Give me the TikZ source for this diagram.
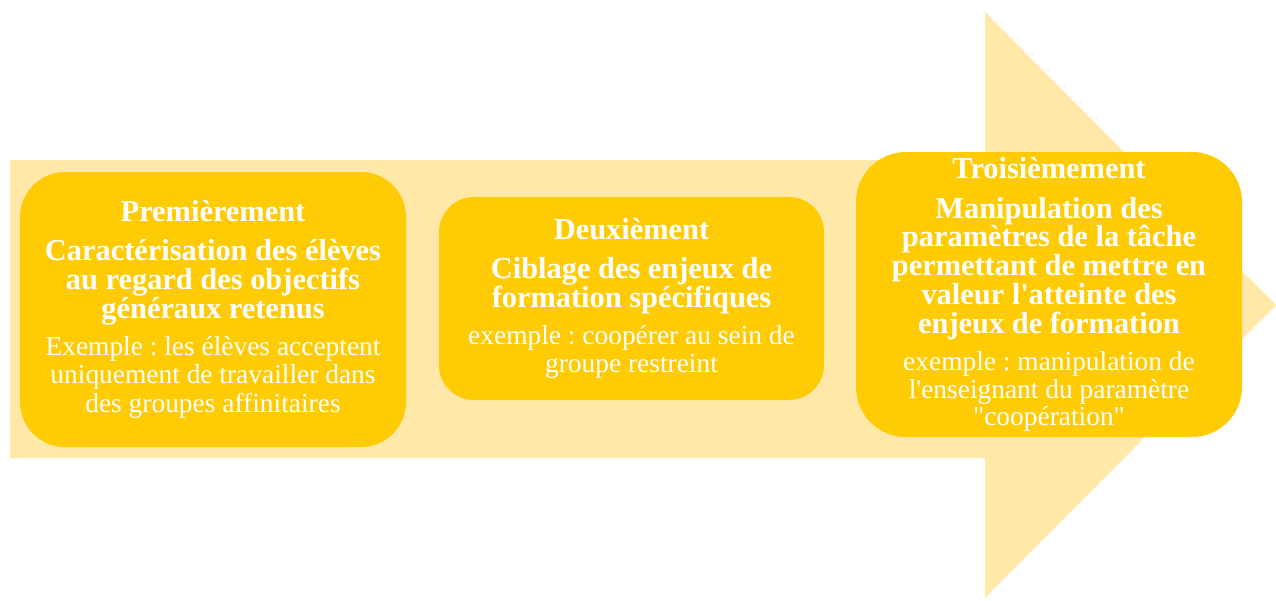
\documentclass[tikz,border=0pt]{standalone}
\usepackage{fontspec}
\setmainfont{Liberation Serif}
\usepackage{tikz}
\usetikzlibrary{positioning}
\definecolor{hellgelb}{HTML}{FFE8A8}
\definecolor{goldgelb}{HTML}{FFCB05}
\frenchspacing
\newcommand{\gras}{\fontsize{17.3}{16.4}\selectfont\bfseries}
\tikzset{
    etape/.style={
           rectangle,
           fill=goldgelb,
           text=white,
           inner sep=2pt,
           text width=7.5cm,
           align=flush center,
           font=\fontsize{15.6}{16.4}\selectfont,
           },
}

\begin{document}
\begin{tikzpicture}

 \useasboundingbox (0,0) rectangle (25.52,-12);

 % big arrow in the background
 \fill[hellgelb] (0.2,-3.2) -- (19.7,-3.2) -- (19.7,-0.24) -- (25.52,-6.1)
   -- (19.7,-11.96) -- (19.7,-9.16) -- (0.2,-9.16) -- cycle;

 \node[etape,
  minimum width=7.72cm,	% box width
  minimum height=5.5cm,	% box height
  rounded corners=0.9cm,
  anchor=center] (Prem) at (4.26,-6.19)
  {{\gras Premièrement\\[6pt]
   Caractérisation des élèves\\
   au regard des objectifs\\
   généraux retenus}\\[4.5pt]
   Exemple : les élèves acceptent\\
   uniquement de travailler dans\\
   des groupes affinitaires};

 \node[etape,
  minimum width=7.7cm,	% box width
  minimum height=4.06cm,	% box height
  rounded corners=0.7cm,
  yshift=0.22cm,	% move up a bit
  right of=Prem,	% position is to the right of Prem
  node distance=8.37cm,	% distance to Prem
  anchor=center] (Deux)
  {{\gras Deuxièment\\[6pt]
   Ciblage des enjeux de\\
   formation spécifiques}\\[4.5pt]
   exemple : coopérer au sein de\\
   groupe restreint};

 \node[etape,
  minimum width=7.72cm,	% box width
  minimum height=5.7cm,	% box height
  rounded corners=1cm,
  yshift=0.08cm,	% move up a bit
  right of=Deux,	% position is to the right of Deux
  node distance=8.35cm,	% distance to Deux
  anchor=center] (Trois)
  {{\gras Troisièmement\\[6pt]
   Manipulation des\\
   paramètres de la tâche\\
   permettant de mettre en\\
   valeur l\textquotesingle atteinte des\\
   enjeux de formation}\\[4.5pt]
   exemple : manipulation de\\
   l\textquotesingle enseignant du paramètre\\[-1.2pt]
   \textquotedbl coopération\textquotedbl};

\end{tikzpicture}
\end{document}
